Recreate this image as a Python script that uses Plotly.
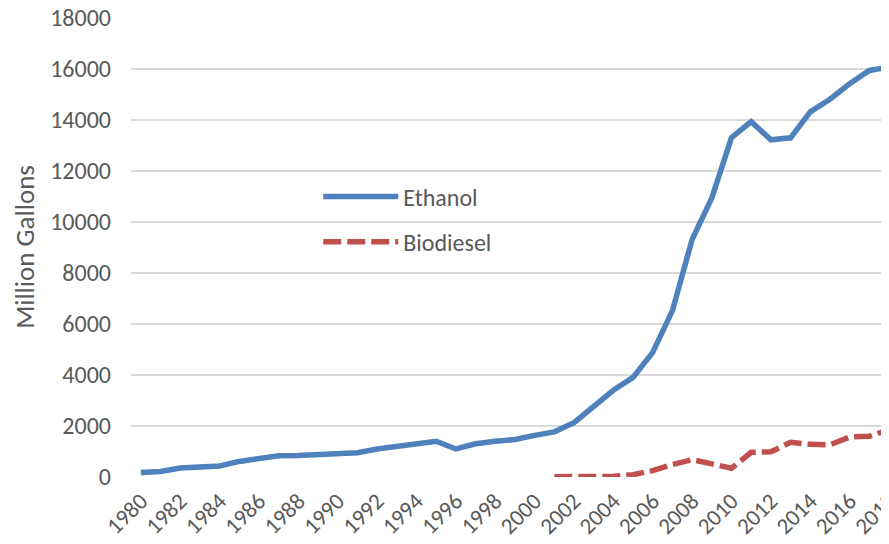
import plotly.graph_objects as go

years = list(range(1980, 2019))
ethanol = [175, 215, 350, 375, 430, 610, 710, 830, 845, 870, 900, 950, 1100, 1200,
           1350, 1400, 1100, 1300, 1400, 1470, 1630, 1770, 2130, 2800, 3400, 3904,
           4884, 6521, 9309, 10938, 13298, 13929, 13218, 13293, 14313, 14807, 15413,
           15936, 16061]
bio_years = list(range(2001, 2019))
biodiesel = [9, 10, 14, 28, 91, 250, 490, 678, 516, 343, 967, 991, 1359, 1279, 1263,
             1568, 1596, 1857]
y_ticks = list(range(0, 18001, 2000))
x_ticks = list(range(1980, 2019, 2))

FONT = "Calibri, Carlito, Lato, sans-serif"
GRAY = "#595959"

fig = go.Figure()
fig.add_trace(go.Scatter(x=years, y=ethanol, mode="lines", name="Ethanol",
                         legendgroup="a",
                         line=dict(color="#4F81BD", width=5.5)))
fig.add_trace(go.Scatter(x=bio_years, y=biodiesel, mode="lines", name="Biodiesel",
                         legendgroup="b",
                         line=dict(color="#C0504D", width=5.5, dash="18px,6px")))

# page body has an 8px default margin, so size is reduced accordingly
fig.update_layout(
    width=881, height=536,
    margin=dict(l=123, r=0, t=9, b=67),
    paper_bgcolor="white", plot_bgcolor="white",
    font=dict(family=FONT, size=24, color=GRAY),
    showlegend=True,
    legend=dict(x=0.247, y=0.56, xanchor="left", yanchor="middle",
                bgcolor="rgba(0,0,0,0)", font=dict(size=24, color=GRAY),
                itemwidth=75, traceorder="grouped", tracegroupgap=11),
    xaxis=dict(range=[1979.5, 2018.0], tickmode="array", tickvals=x_ticks,
               ticktext=[str(v) for v in x_ticks], tickangle=-45,
               showgrid=False, zeroline=False, showline=False, ticks="",
               ticklabelstandoff=5, automargin=False, ticklabeloverflow="allow",
               tickfont=dict(size=23, color=GRAY)),
    yaxis=dict(range=[0, 18030], tickmode="array", tickvals=y_ticks,
               ticktext=[str(v) for v in y_ticks],
               showgrid=True, gridcolor="#D9D9D9", gridwidth=1.5,
               zeroline=False, showline=False, ticks="",
               ticklabelstandoff=19, automargin=False, ticklabeloverflow="allow",
               tickfont=dict(size=24, color=GRAY),
               title=dict(text="Million Gallons", standoff=16,
                          font=dict(size=27, color=GRAY))),
)

fig.write_html("out.html")
